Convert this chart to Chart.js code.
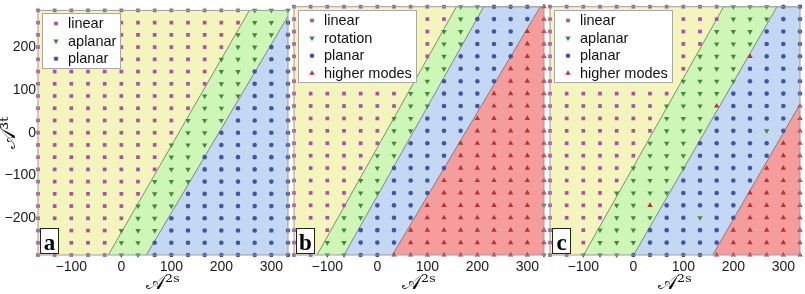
<!DOCTYPE html>
<html><head><meta charset="utf-8">
<script src="https://cdn.jsdelivr.net/npm/chart.js@4"></script>
<style>
html,body{margin:0;padding:0;background:#fff;width:805px;height:294px;overflow:hidden}
canvas{position:absolute;top:0}
</style></head><body>
<canvas id="ca" width="292" height="294" style="left:0px"></canvas>
<canvas id="cb" width="292" height="294" style="left:256px"></canvas>
<canvas id="cc" width="292" height="294" style="left:512px"></canvas>
<script>
// ---- data ----
const xGrid = [-166.67, -133.33, -100, -66.67, -33.33, 0, 33.33, 66.67, 100, 133.33, 166.67, 200, 233.33, 266.67, 300, 333.33];
const yGrid = [287.5, 258.75, 230, 201.25, 172.5, 143.75, 115, 86.25, 57.5, 28.75, 0, -28.75, -57.5, -86.25, -115, -143.75, -172.5, -201.25, -230, -258.75, -287.5];
const xTicks = [-100, 0, 100, 200, 300];
const yTicks = [-200, -100, 0, 100, 200];
const xRange = [-166.67, 333.33];
const yRange = [-287.5, 287.5];

// mode of every grid point, one string per row (top row first): L, A, P, H
const modesA = [
  "LLLLLLLLLLLLLAAA","LLLLLLLLLLLLLAAP","LLLLLLLLLLLLAAAP","LLLLLLLLLLLLAAPP",
  "LLLLLLLLLLLAAAPP","LLLLLLLLLLLAAPPP","LLLLLLLLLLLAAPPP","LLLLLLLLLLAAAPPP",
  "LLLLLLLLLLAAPPPP","LLLLLLLLLAAAPPPP","LLLLLLLLLAAPPPPP","LLLLLLLLAAAPPPPP",
  "LLLLLLLLAAPPPPPP","LLLLLLLLAAPPPPPP","LLLLLLLAAAPPPPPP","LLLLLLLAAPPPPPPP",
  "LLLLLLAAAPPPPPPP","LLLLLLAAPPPPPPPP","LLLLLAAAPPPPPPPP","LLLLLAAPPPPPPPPP",
  "LLLLLAAPPPPPPPPP"
];
const modesB = [
  "LLLLLLLLLLAAPPPH","LLLLLLLLLLAPPPPH","LLLLLLLLLAAPPPHH","LLLLLLLLLAAPPPHH",
  "LLLLLLLLLAPPPPHH","LLLLLLLLAAPPPHHH","LLLLLLLLAPPPPHHH","LLLLLLLAAPPPHHHH",
  "LLLLLLLAAPPPHHHH","LLLLLLAAPPPHHHHH","LLLLLLAAPPPHHHHH","LLLLLLAPPPHHHHHH",
  "LLLLLAAPPPHHHHHH","LLLLLAPPPPHHHHHH","LLLLAAPPPHHHHHHH","LLLLAAPPPHHHHHHH",
  "LLLLAPPPHHHHHHHA","LLLAAPPPHHHHHHHH","LLLAPPPHHHHHHHHH","LLAAPPPHHHHHHHHH",
  "LLAAPPHHHHHHHHHA"
];
const modesC = [
  "LLLLLLLLLLLAAAPP","LLLLLLLLLLLAAAPP","LLLLLLLLLLAAAPPP","LLLLLLLLLLAAAPPP",
  "LLLLLLLLLAAAHPPP","LLLLLLLLLAAAPPPP","LLLLLLLLAAAAPPPP","LLLLLLLLAAAPPPPP",
  "LLLLLLLAAAHPPPPH","LLLLLLLAAAPPPPPH","LLLLLLLAAAPPPAPH","LLLLLLAAAPPPPPHH",
  "LLLLLLAAAPPPPPHH","LLLLLAAAAPPPPHHH","LLLLLAAAPPPPPHHH","LLLLAAAAPPPPHHHH",
  "LLLLAAHPPPPPHHHH","LLLLAAAPPAPPHHHH","LLLAAAPPPPPHHHHH","LLLAAAPPPPPHHHHH",
  "LLAAAPPPPPHHHHHH"
];

const legendA = ["linear", "aplanar", "planar"];
const legendB = ["linear", "rotation", "planar", "higher modes"];
const legendC = ["linear", "aplanar", "planar", "higher modes"];

// region boundaries [A2s, A3t], one per region after "linear"
const edgesA = [
  [[-26, -287.5], [256, 287.5], [333.33, 287.5]],
  [[50, -287.5], [333.33, 274]]
];
const edgesB = [
  [[-120.6, -287.5], [158.2, 287.5], [333.33, 287.5]],
  [[-66.5, -287.5], [212.8, 287.5], [333.33, 287.5]],
  [[30, -287.5], [326, 287.5], [333.33, 287.5]]
];
const edgesC = [
  [[-99.3, -287.5], [180.7, 287.5], [333.33, 287.5]],
  [[0.7, -287.5], [287.3, 287.5], [333.33, 287.5]],
  [[158.7, -287.5], [333.33, 62]]
];

// ---- styles ----
const CODES = "LAPH";
const regionColors = ["#f4f4bd", "#cdf6b7", "#c4d8f4", "#f59c9c"];
const markerStyles = [
  {pointStyle: "rect", radius: 2.6, rotation: 0, color: "#b04da6"},
  {pointStyle: "triangle", radius: 3.1, rotation: 180, color: "#3d8c3d"},
  {pointStyle: "circle", radius: 2.3, rotation: 0, color: "#4353a8"},
  {pointStyle: "triangle", radius: 3.1, rotation: 0, color: "#b83232"}
];
const FONT = "'Liberation Sans', Arial, Helvetica, sans-serif";
const TITLE_FONT = "'DejaVu Serif', 'DejaVu Sans', serif";
const fmt = v => (v < 0 ? "\u2212" + Math.abs(v) : String(v));

function buildDatasets(modes, legend, edges) {
  const ds = [];
  ds.push({
    data: [{x: xRange[0], y: yRange[1]}, {x: xRange[1], y: yRange[1]}],
    fill: "start", backgroundColor: regionColors[0], borderWidth: 0,
    pointRadius: 0, order: 20
  });
  edges.forEach((e, k) => ds.push({
    data: e.map(p => ({x: p[0], y: p[1]})),
    fill: "start", backgroundColor: regionColors[k + 1],
    borderColor: "#6e6e6e", borderWidth: 0.8,
    pointRadius: 0, tension: 0, order: 19 - k
  }));
  legend.forEach((name, k) => {
    const pts = [];
    modes.forEach((row, i) => {
      for (let j = 0; j < row.length && j < xGrid.length; j++) {
        if (CODES.indexOf(row[j]) === k) pts.push({x: xGrid[j], y: yGrid[i]});
      }
    });
    const st = markerStyles[k];
    ds.push({
      label: name, data: pts, showLine: false,
      pointStyle: st.pointStyle, pointRadius: st.radius, pointRotation: st.rotation,
      backgroundColor: st.color, borderColor: st.color, pointBorderWidth: 0,
      clip: false, order: 1
    });
  });
  return ds;
}

function decorPlugin(legend, letter) {
  return {
    id: "decor" + letter,
    afterDatasetsDraw(chart) {
      const ctx = chart.ctx, a = chart.chartArea;
      ctx.save();
      ctx.strokeStyle = "#9c9c9c"; ctx.lineWidth = 1;
      ctx.strokeRect(a.left, a.top, a.right - a.left, a.bottom - a.top);
      // legend box
      ctx.font = "14.5px " + FONT;
      const tw = Math.max(...legend.map(t => ctx.measureText(t).width));
      const bx = Math.round(a.left + 4), by = Math.round(a.top + 3);
      const w = Math.round(26 + tw + 4), h = Math.round(legend.length * 17.6 + 2);
      ctx.fillStyle = "#fff"; ctx.fillRect(bx, by, w, h);
      ctx.strokeStyle = "#a8a8a8"; ctx.strokeRect(bx + 0.5, by + 0.5, w, h);
      legend.forEach((t, k) => {
        const cy = by + 10.5 + 17.6 * k;
        const st = markerStyles[k];
        ctx.fillStyle = st.color;
        if (Chart.helpers && Chart.helpers.drawPoint) {
          Chart.helpers.drawPoint(ctx, {pointStyle: st.pointStyle, radius: st.radius, rotation: st.rotation, borderWidth: 0}, bx + 14, cy);
        } else {
          ctx.beginPath(); ctx.arc(bx + 14, cy, st.radius, 0, Math.PI * 2); ctx.fill();
        }
        ctx.fillStyle = "#111"; ctx.textBaseline = "middle"; ctx.textAlign = "left";
        ctx.fillText(t, bx + 26, cy + 0.5);
      });
      // panel letter
      const lx = Math.round(a.left + 2), ly = Math.round(a.bottom - 27);
      ctx.fillStyle = "#fff"; ctx.fillRect(lx, ly, 18, 25);
      ctx.strokeStyle = "#222"; ctx.strokeRect(lx + 0.5, ly + 0.5, 18, 25);
      ctx.fillStyle = "#000"; ctx.font = "bold 23px 'Liberation Serif', 'DejaVu Serif', serif";
      ctx.textAlign = "center"; ctx.textBaseline = "alphabetic";
      ctx.fillText(letter, lx + 9.5, a.bottom - 5);
      ctx.restore();
    }
  };
}

function makeChart(id, modes, legend, edges, letter, showY) {
  new Chart(document.getElementById(id), {
    type: "line",
    data: {datasets: buildDatasets(modes, legend, edges)},
    options: {
      responsive: false, animation: false, devicePixelRatio: 1, events: [],
      layout: {padding: {left: 0, right: 4, top: 6.7, bottom: 0}},
      plugins: {legend: {display: false}, tooltip: {enabled: false}},
      scales: {
        x: {
          type: "linear", min: xRange[0], max: xRange[1],
          afterBuildTicks: s => { s.ticks = xTicks.map(v => ({value: v})); },
          afterFit: s => { s.height = 39; },
          grid: {display: false, drawTicks: false}, border: {display: false},
          ticks: {padding: 4, color: "#1a1a1a", font: {family: FONT, size: 14}, callback: fmt, maxRotation: 0, autoSkip: false},
          title: {display: true, text: "\uD835\uDC9C\u00B2\u02E2", color: "#111", padding: 0,
                  font: {family: TITLE_FONT, size: 20, lineHeight: 1}}
        },
        y: {
          type: "linear", min: yRange[0], max: yRange[1],
          afterBuildTicks: s => { s.ticks = yTicks.map(v => ({value: v})); },
          afterFit: s => { s.width = 38; },
          grid: {display: false, drawTicks: false}, border: {display: false},
          ticks: {display: showY, padding: 2, color: "#1a1a1a", font: {family: FONT, size: 14}, callback: fmt},
          title: {display: showY, text: "\uD835\uDC9C\u00B3\u1D57", color: "#111", padding: 0,
                  font: {family: TITLE_FONT, size: 20, lineHeight: 1}}
        }
      }
    },
    plugins: [decorPlugin(legend, letter)]
  });
}

makeChart("ca", modesA, legendA, edgesA, "a", true);
makeChart("cb", modesB, legendB, edgesB, "b", false);
makeChart("cc", modesC, legendC, edgesC, "c", false);
</script>
</body></html>
